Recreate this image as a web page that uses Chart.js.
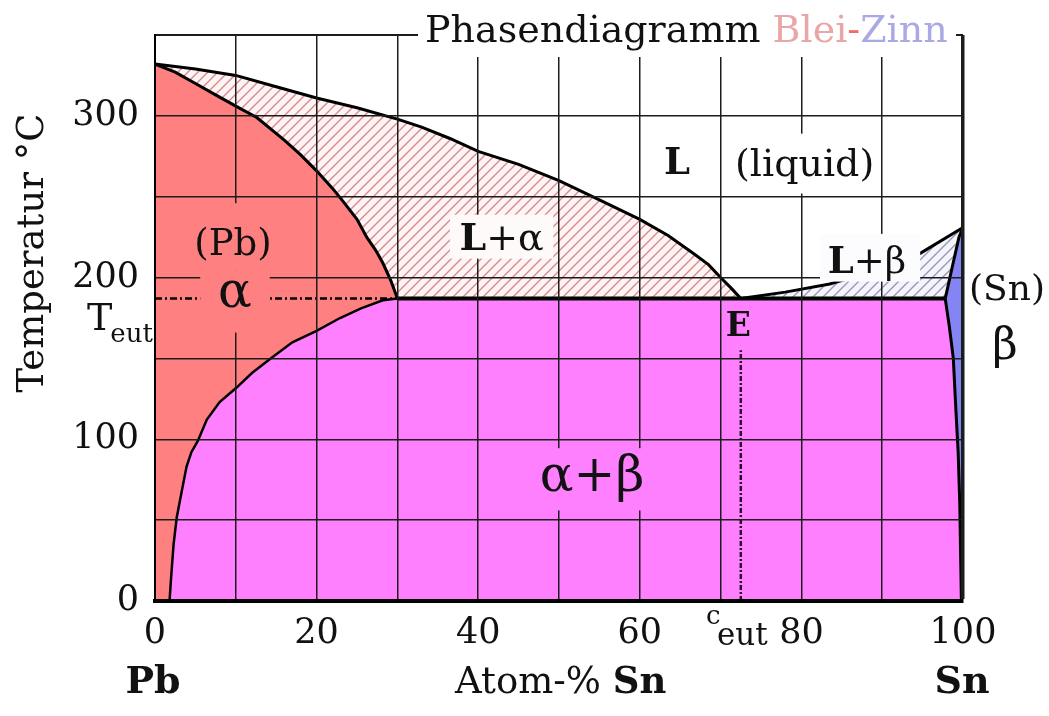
<!DOCTYPE html>
<html>
<head>
<meta charset="utf-8">
<title>Phasendiagramm Blei-Zinn</title>
<script src="https://cdn.jsdelivr.net/npm/chart.js@4.4.0/dist/chart.umd.min.js"></script>
<style>
  html, body { margin: 0; padding: 0; background: #fff; }
</style>
</head>
<body>
<canvas id="phasen" width="1049" height="716"></canvas>
<script>
// Werte: Zusammensetzung in Atom-% Sn, Temperatur in °C
const liquidusPb = [[0, 332], [5, 329], [10, 325], [15, 318], [20, 311], [25, 305], [30, 298], [33, 293], [36.5, 286], [40, 278], [45, 270], [50, 260], [55, 248], [60, 236], [63.5, 226], [66.6, 215], [68.5, 208], [70, 200], [71.4, 193], [72.5, 187]];
const solidusPb = [[0, 332], [2.5, 327], [5, 320], [7.5, 313], [10, 306], [12.6, 299], [16, 285], [18, 276], [20, 266], [22, 255], [23.3, 247], [25, 236], [26.2, 225], [27.3, 217], [28.2, 209], [29.2, 198], [30, 187]];
const solvusPb = [[30, 187], [28.2, 186], [25.5, 181], [22.9, 175], [20, 167], [17, 160], [14.6, 151], [12, 141], [10.1, 132], [8, 123], [6.4, 112], [5.3, 99], [4.5, 92], [3.9, 83], [3.2, 65], [2.7, 52], [2.3, 35], [2.0, 15], [1.8, 0]];
const liquidusSn = [[72.5, 187], [78, 191], [83.5, 196], [89, 204], [94.7, 215], [100, 231]];
const solidusSn = [[97.8, 187], [98.6, 205], [99.5, 225], [100, 231]];
const solvusSn = [[97.8, 187], [98.3, 170], [98.8, 150], [99.1, 120], [99.4, 92], [99.6, 60], [99.8, 0]];
const tEut = 187;
const cEut = 72.5;
const cAlphaMax = 30;
const cBetaMin = 97.8;
const eLineTop = 155;
const xTicks = [0, 20, 40, 60, 80, 100];
const yTicks = [0, 100, 200, 300];

const SERIF = "'DejaVu Serif', serif";
const ALPHA = '#ff8080';
const ALPHABETA = '#ff80ff';
const BETA = '#8484f2';

// Schraffur fuer die Zweiphasengebiete mit Schmelze
function hatch(bg, fg) {
  const s = 10;
  const c = document.createElement('canvas');
  c.width = s; c.height = s;
  const g = c.getContext('2d');
  g.fillStyle = bg;
  g.fillRect(0, 0, s, s);
  g.strokeStyle = fg;
  g.lineWidth = 1.4;
  g.beginPath();
  g.moveTo(0, s); g.lineTo(s, 0);
  g.moveTo(-1, 1); g.lineTo(1, -1);
  g.moveTo(s - 1, s + 1); g.lineTo(s + 1, s - 1);
  g.stroke();
  return g.createPattern(c, 'repeat');
}

const pts = a => a.map(([x, y]) => ({ x, y }));
const rev = a => a.slice().reverse();

// Flaechen aus den Grenzlinien
const alphaArea = [[0, 0], ...solidusPb, ...solvusPb.slice(1)];
const alphaBetaArea = [...solvusPb, ...rev(solvusSn)];
const lAlphaArea = [...liquidusPb, [cAlphaMax, tEut], ...rev(solidusPb)];
const lBetaArea = [...liquidusSn, ...rev(solidusSn.slice(0, -1))];
const betaArea = [...solidusSn, [100, 0], ...rev(solvusSn)];

function region(data, color) {
  return { data: pts(data), backgroundColor: color, borderWidth: 0, fill: 'shape', showLine: true, pointRadius: 0, order: 3 };
}
function boundary(data, width, dash, color) {
  return { data: pts(data), borderColor: color || '#000', borderWidth: width, borderDash: dash || [], fill: false, showLine: true, pointRadius: 0, order: 1 };
}

function font(size, bold) {
  return (bold ? 'bold ' : '') + size + 'px ' + SERIF;
}

const labelsPlugin = {
  id: 'labels',
  afterDraw(chart) {
    const { ctx, scales: { x, y } } = chart;
    const X = v => x.getPixelForValue(v);
    const Y = v => y.getPixelForValue(v);
    const box = (x0, y0, x1, y1, col) => {
      ctx.fillStyle = col;
      ctx.fillRect(X(x0), Y(y1), X(x1) - X(x0), Y(y0) - Y(y1));
    };
    const text = (s, px, py, size, o = {}) => {
      ctx.font = font(size, o.bold);
      ctx.fillStyle = o.color || '#111';
      ctx.textAlign = o.align || 'center';
      ctx.textBaseline = o.base || 'middle';
      ctx.fillText(s, px, py);
      return ctx.measureText(s).width;
    };
    const width = (s, size, bold) => { ctx.font = font(size, bold); return ctx.measureText(s).width; };

    ctx.save();

    // Hintergruende der Beschriftungen
    box(4.3, 204, 15.5, 246, ALPHA);
    box(5.6, 166, 14.2, 204, ALPHA);
    box(36.5, 211.7, 49.3, 238.9, '#fffafa');
    box(71.3, 252, 89.6, 289, '#fff');
    box(82.3, 197.5, 94.7, 227, '#fcfcff');
    box(70.5, 158, 73.9, 179.6, ALPHABETA);
    box(46, 56, 62.5, 94.5, ALPHABETA);

    // Titel ueber dem oberen Rand
    ctx.fillStyle = '#fff';
    ctx.fillRect(418, 0, 538, 57);
    let tx = 425;
    [['Phasendiagramm ', '#111'], ['Blei', '#eaa6a6'], ['-', '#f46a6a'], ['Zinn', '#a9a9e6']].forEach(([s, c]) => {
      tx += text(s, tx, 42, 38, { color: c, align: 'left', base: 'alphabetic' });
    });

    // Phasen
    text('(Pb)', X(9.65), Y(220), 37);
    text('\u03b1', X(9.9), Y(190), 50);
    let w1 = width('L', 38, true), w2 = width('+\u03b1', 38);
    let sx = X(42.9) - (w1 + w2) / 2;
    text('L', sx, Y(223), 38, { bold: true, align: 'left' });
    text('+\u03b1', sx + w1, Y(223), 38, { align: 'left' });
    text('L', X(64.6), Y(270), 37, { bold: true });
    text('(liquid)', X(80.4), Y(269), 38);
    w1 = width('L', 37, true); w2 = width('+\u03b2', 37);
    sx = X(88.1) - (w1 + w2) / 2;
    text('L', sx, Y(209), 37, { bold: true, align: 'left' });
    text('+\u03b2', sx + w1, Y(209), 37, { align: 'left' });
    text('E', X(72.2), Y(169), 33, { bold: true });
    text('\u03b1+\u03b2', X(54.1), Y(76), 50);
    text('(Sn)', 1007, 291, 36);
    text('\u03b2', 1005, 348, 44);

    // T_eut und c_eut
    const tw = text('T', 87, 330, 38, { align: 'left', base: 'alphabetic' });
    text('eut', 87 + tw - 2, 342, 26, { align: 'left', base: 'alphabetic' });
    text('c', 706, 624, 26, { align: 'left', base: 'alphabetic' });
    text('eut', 717, 645, 31, { align: 'left', base: 'alphabetic' });

    // Achsenbeschriftungen
    ctx.save();
    ctx.translate(33, 253);
    ctx.rotate(-Math.PI / 2);
    text('Temperatur \u00b0C', 0, 0, 37);
    ctx.restore();
    text('Pb', 153, 683, 38, { bold: true });
    const aw = text('Atom-% ', 455, 683, 37, { align: 'left' });
    text('Sn', 455 + aw, 683, 37, { bold: true, align: 'left' });
    text('Sn', 962, 683, 38, { bold: true });

    ctx.restore();
  }
};

new Chart(document.getElementById('phasen'), {
  type: 'scatter',
  data: {
    datasets: [
      region(alphaArea, ALPHA),
      region(alphaBetaArea, ALPHABETA),
      region(lAlphaArea, hatch('#fff3f3', '#d48c8c')),
      region(lBetaArea, hatch('#f4f4fc', '#9898b4')),
      region(betaArea, BETA),
      boundary(liquidusPb, 3),
      boundary(solidusPb, 3),
      boundary(solvusPb, 2.5),
      boundary([[cAlphaMax, tEut], [cBetaMin, tEut]], 4),
      boundary(liquidusSn, 3),
      boundary(solidusSn, 3),
      boundary(solvusSn, 3),
      boundary([[0, tEut], [cAlphaMax, tEut]], 2.5, [7, 3, 2, 3]),
      boundary([[cEut, 0], [cEut, eLineTop]], 2.5, [5, 2, 2, 2], '#2a0a2a')
    ]
  },
  options: {
    responsive: false,
    animation: false,
    events: [],
    layout: { padding: { top: 35, right: 86, left: 0, bottom: 0 } },
    plugins: { legend: { display: false }, tooltip: { enabled: false } },
    scales: {
      x: {
        type: 'linear', min: 0, max: 100,
        ticks: {
          stepSize: 10, autoSkip: false, maxRotation: 0, padding: 12, color: '#111',
          font: { family: SERIF, size: 35 },
          callback: v => xTicks.includes(v) ? v : ''
        },
        grid: { z: 1, color: '#1c1c1c', lineWidth: c => (c.tick && c.tick.value === 100 ? 3.5 : 1.5), drawTicks: false },
        border: { z: 2, color: '#000', width: 4 },
        afterFit: s => { s.height = 115; s.paddingLeft = 0; s.paddingRight = 0; }
      },
      y: {
        type: 'linear', min: 0, max: 350,
        ticks: {
          stepSize: 50, autoSkip: false, padding: 16, color: '#111',
          font: { family: SERIF, size: 35 },
          callback: v => yTicks.includes(v) ? v : ''
        },
        grid: { z: 1, color: '#1c1c1c', lineWidth: c => (c.tick && c.tick.value === 350 ? 2 : 1.5), drawTicks: false },
        border: { z: 2, color: '#000', width: 2 },
        afterFit: s => { s.width = 155; s.paddingTop = 0; s.paddingBottom = 0; }
      }
    }
  },
  plugins: [labelsPlugin]
});
</script>
</body>
</html>
